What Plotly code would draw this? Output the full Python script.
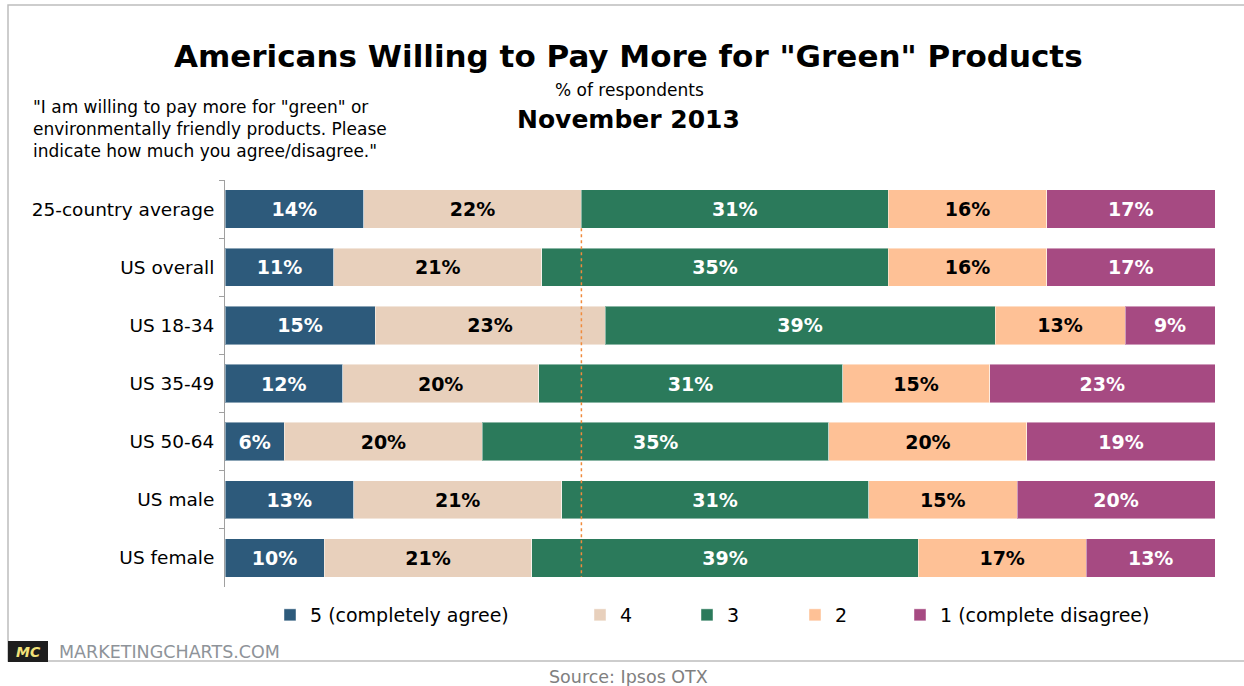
import plotly.graph_objects as go

# ---------------- data ----------------
categories = ["25-country average", "US overall", "US 18-34", "US 35-49",
              "US 50-64", "US male", "US female"]
series_names = ["5 (completely agree)", "4", "3", "2", "1 (complete disagree)"]
agree5 = [14, 11, 15, 12, 6, 13, 10]
agree4 = [22, 21, 23, 20, 20, 21, 21]
neutral3 = [31, 35, 39, 31, 35, 31, 39]
disagree2 = [16, 16, 13, 15, 20, 15, 17]
disagree1 = [17, 17, 9, 23, 19, 20, 13]
reference_line_value = 36  # 25-country average: share agreeing (5 + 4)

series_values = [agree5, agree4, neutral3, disagree2, disagree1]
colors = ["#2D5A7B", "#E8D0BC", "#2B7A5B", "#FEC196", "#A64A82"]
text_colors = ["white", "black", "white", "black", "white"]

# ---------------- geometry helpers (layout pixels -> paper) ----------------
W, H = 1244, 686
ML, MR, MT, MB = 225, 29, 180, 99
PW, PH = W - ML - MR, H - MT - MB


def px(x):
    return (x - ML) / PW


def py(y):
    return (H - MB - y) / PH


FONT = "DejaVu Sans"

fig = go.Figure()
legend_names = ["legend", "legend2", "legend3", "legend4", "legend5"]
for i, (name, vals) in enumerate(zip(series_names, series_values)):
    fig.add_trace(go.Bar(
        y=categories, x=vals, name=name, orientation="h",
        marker=dict(color=colors[i], line=dict(color="rgba(255,255,255,0.45)", width=1)),
        text=[f"{v}%" for v in vals], texttemplate="%{text}",
        textposition="inside", insidetextanchor="middle",
        textfont=dict(family=FONT, size=19, color=text_colors[i], weight="bold"),
        width=0.66, legend=legend_names[i], showlegend=True,
    ))

fig.update_layout(
    width=W, height=H,
    margin=dict(l=ML, r=MR, t=MT, b=MB, pad=0),
    barmode="stack", barnorm="percent",
    showlegend=True,
    paper_bgcolor="white", plot_bgcolor="white",
    font=dict(family=FONT, color="black"),
    xaxis=dict(range=[0, 100], visible=False, fixedrange=True),
    yaxis=dict(autorange="reversed", showline=True, linecolor="#A0A0A0", linewidth=1,
               ticks="outside", tickson="boundaries", ticklen=5, tickcolor="#A0A0A0",
               tickfont=dict(family=FONT, size=18.5, color="black"), ticklabelstandoff=6,
               showgrid=False),
    uniformtext=dict(mode=False),
)

# legends, one per item, placed individually
legend_text_x = [312, 622, 729, 837, 942]
for ln, tx in zip(legend_names, legend_text_x):
    fig.update_layout(**{ln: dict(
        orientation="h", x=px(tx - 42), xanchor="left", y=py(615), yanchor="middle",
        font=dict(family=FONT, size=19, color="black"), itemwidth=30,
        bgcolor="rgba(0,0,0,0)", borderwidth=0, itemclick=False, itemdoubleclick=False,
        visible=True,
    )})

shapes = []
# dashed reference line
shapes.append(dict(type="line", xref="x", yref="y", x0=reference_line_value, x1=reference_line_value,
                   y0=0.33, y1=6.33, line=dict(color="#F08A3C", width=1.5, dash="3px,3px"), layer="above"))
# outer border (open on the right)
shapes.append(dict(type="rect", xref="paper", yref="paper", x0=px(8), x1=px(1260), y0=py(5), y1=py(661),
                   line=dict(color="#BDBDBD", width=1.5), layer="below"))
# MC logo box
shapes.append(dict(type="rect", xref="paper", yref="paper", x0=px(8), x1=px(48), y0=py(641), y1=py(662),
                   fillcolor="#1E1E1E", line=dict(color="#1E1E1E", width=0)))
fig.update_layout(shapes=shapes)

annotations = [
    dict(text="<b>Americans Willing to Pay More for \"Green\" Products</b>", x=px(628), y=py(56),
         font=dict(family=FONT, size=31, color="black")),
    dict(text="% of respondents", x=px(629), y=py(90), font=dict(family=FONT, size=17, color="black")),
    dict(text="<b>November 2013</b>", x=px(628), y=py(120), font=dict(family=FONT, size=25, color="black")),
    dict(text="\"I am willing to pay more for \"green\" or<br>environmentally friendly products. Please<br>"
              "indicate how much you agree/disagree.\"",
         x=px(31), y=py(129), xanchor="left", align="left",
         font=dict(family=FONT, size=17, color="black")),
    dict(text="<b><i>MC</i></b>", x=px(28), y=py(652), font=dict(family=FONT, size=14, color="#F3E37A")),
    dict(text="MARKETINGCHARTS.COM", x=px(57), y=py(652), xanchor="left",
         font=dict(family=FONT, size=17.5, color="#8E9399")),
    dict(text="Source: Ipsos OTX", x=px(628), y=py(677), font=dict(family=FONT, size=17.5, color="#808080")),
]
for a in annotations:
    a.setdefault("xanchor", "center")
    a.update(xref="paper", yref="paper", showarrow=False, yanchor="middle")
fig.update_layout(annotations=annotations)

fig.write_html("out.html")
